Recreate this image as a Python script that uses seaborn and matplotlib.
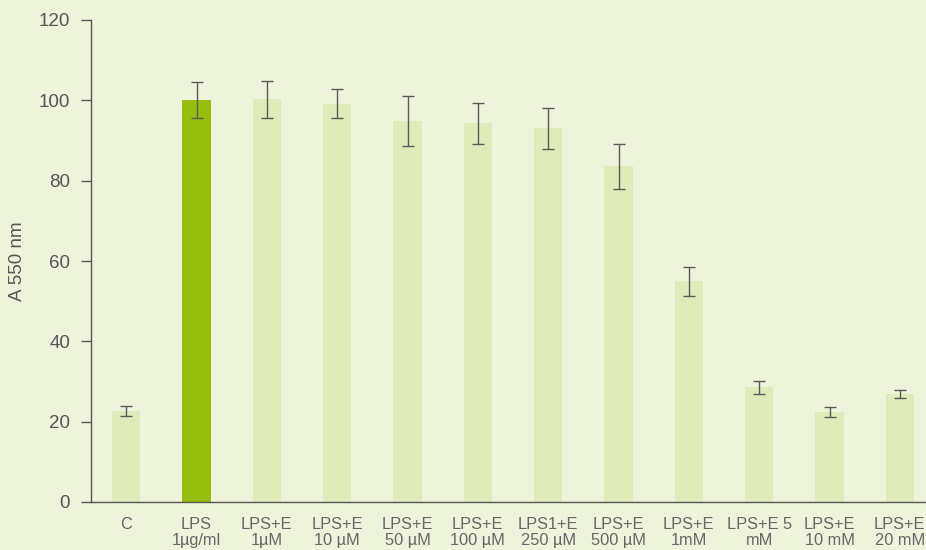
import numpy as np
import pandas as pd
import matplotlib
matplotlib.use("Agg")
import matplotlib.pyplot as plt
import seaborn as sns

categories = ["C", "LPS\n1µg/ml", "LPS+E\n1µM", "LPS+E\n10 µM", "LPS+E\n50 µM",
              "LPS+E\n100 µM", "LPS1+E\n250 µM", "LPS+E\n500 µM", "LPS+E\n1mM",
              "LPS+E 5\nmM", "LPS+E\n10 mM", "LPS+E\n20 mM"]
values = [22.6, 100.0, 100.3, 99.1, 94.8, 94.3, 93.1, 83.6, 55.0, 28.6, 22.4, 26.9]
errors = [1.3, 4.5, 4.6, 3.6, 6.2, 5.1, 5.1, 5.6, 3.6, 1.6, 1.2, 0.9]
groups = ["ctrl", "lps"] + ["ctrl"] * 10
yticks = [0, 20, 40, 60, 80, 100, 120]

BG = "#EEF4DC"
LIGHT = "#DFEBB8"
DARK = "#96BF0D"
TXT = "#555555"

sns.set_theme(style="white")
plt.rcParams['font.family'] = ['Liberation Sans', 'DejaVu Sans']

df = pd.DataFrame({"cat": categories, "val": values, "grp": groups})

fig = plt.figure(figsize=(9.26, 5.5), dpi=100, facecolor=BG)
ax = fig.add_axes([91/926, 48/550, (935-91)/926, 482/550])
ax.set_facecolor(BG)

sns.barplot(data=df, x="cat", y="val", hue="grp", order=categories,
            palette={"ctrl": LIGHT, "lps": DARK}, width=0.4, dodge=False,
            legend=False, ax=ax, errorbar=None, saturation=1, linewidth=0)

ax.errorbar(np.arange(len(categories)), values, yerr=errors, fmt="none",
            ecolor="#5a5a5a", elinewidth=1.0, capsize=4.5, capthick=1.0, zorder=5)

ax.set_xlim(-0.5, len(categories) - 0.5)
ax.set_ylim(0, 120)
ax.set_yticks(yticks)
ax.set_yticklabels([str(t) for t in yticks], fontsize=13.5, color=TXT)
ax.set_xticks(np.arange(len(categories)))
ax.set_xticklabels(categories, fontsize=11.8, color="#666666", linespacing=1.1)
ax.tick_params(axis="x", which="major", length=0, pad=11)
ax.set_xticks(np.arange(len(categories) + 1) - 0.5, minor=True)
ax.tick_params(axis="x", which="minor", length=5, width=1, color="#555555", direction="out")
ax.tick_params(axis="y", length=7, width=1, color="#555555", direction="out", pad=8, left=True)
ax.set_xlabel("")
ax.set_ylabel("A 550 nm", fontsize=13.5, color=TXT, va="center")
ax.yaxis.set_label_coords(-73/844, 0.5)
for s in ["top", "right"]:
    ax.spines[s].set_visible(False)
for s in ["left", "bottom"]:
    ax.spines[s].set_color("#555555")
    ax.spines[s].set_linewidth(1)
ax.grid(False)

fig.savefig("out.png", dpi=100, facecolor=BG)
